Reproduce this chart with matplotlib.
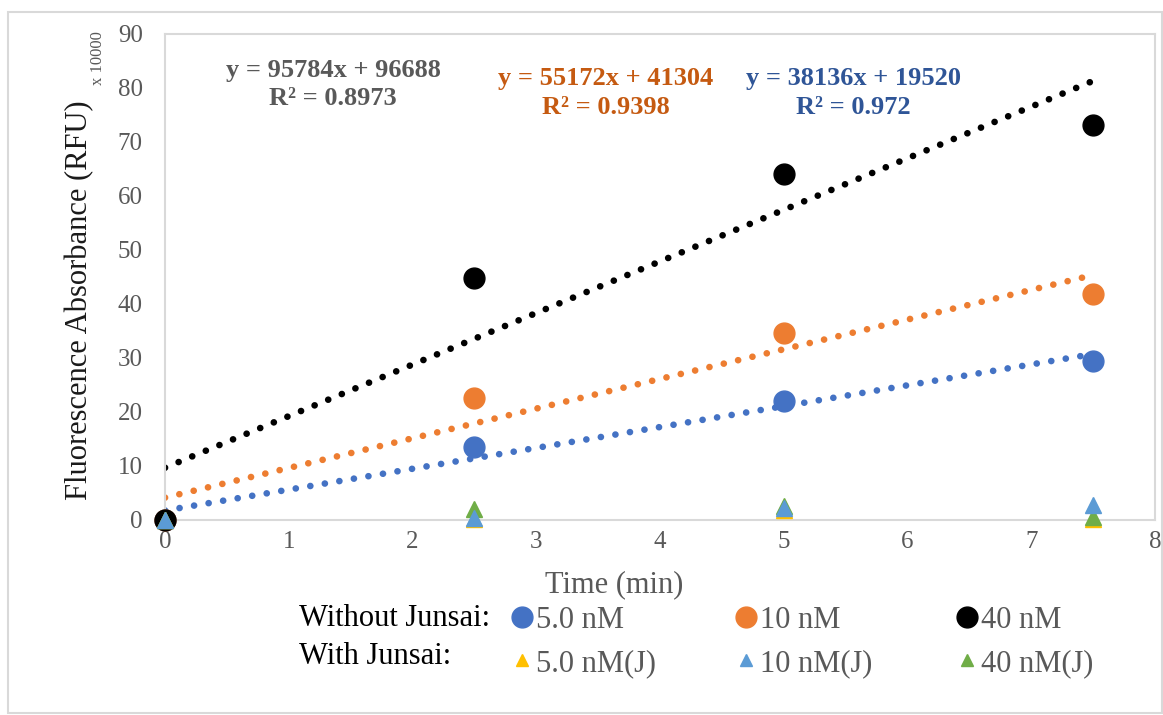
import numpy as np
import matplotlib
matplotlib.use("Agg")
import matplotlib.pyplot as plt
from matplotlib.lines import Line2D
from matplotlib.patches import Rectangle

plt.rcParams['font.family'] = ['Liberation Serif', 'DejaVu Serif']

# data (y in units of x 10000 RFU)
time_min = [0, 2.5, 5, 7.5]
nm5 = [0, 13.6, 22.0, 29.4]
nm10 = [0, 22.6, 34.6, 41.8]
nm40 = [0, 44.8, 64.0, 73.2]
nm5_j = [0, 0.2, 1.8, 0.2]
nm10_j = [0, 0.4, 2.2, 2.8]
nm40_j = [0, 2.0, 2.6, 0.6]

eq_texts = ["y = 95784x + 96688\nR\u00b2 = 0.8973",
            "y = 55172x + 41304\nR\u00b2 = 0.9398",
            "y = 38136x + 19520\nR\u00b2 = 0.972"]

BLUE = '#4472C4'
ORANGE = '#ED7D31'
BLACK = '#000000'
YELLOW = '#FFC000'
LBLUE = '#5B9BD5'
GREEN = '#70AD47'
GREY = '#595959'

W, H = 1163, 715
fig = plt.figure(figsize=(W / 100, H / 100), dpi=100)
ax = fig.add_axes([165 / W, 1 - 520 / H, (1155 - 165) / W, (520 - 34) / H])

# outer chart border
fig.patches.append(Rectangle((8 / W, 2 / H), 1 - 9 / W, 1 - 14 / H, transform=fig.transFigure,
                             fill=False, edgecolor='#D9D9D9', linewidth=1.5))

x = np.array(time_min)
xfit = np.array([0, 7.5])
for ys, col in [(nm40, BLACK), (nm10, ORANGE), (nm5, BLUE)]:
    k, b = np.polyfit(x, ys, 1)
    ax.plot(xfit, k * xfit + b, color=col, lw=4.8, linestyle=(0, (0.01, 2.2)),
            dash_capstyle='round', zorder=2)

for ys, col in [(nm5, BLUE), (nm10, ORANGE), (nm40, BLACK)]:
    ax.plot(x, ys, 'o', color=col, ms=15, mec=col, clip_on=False, zorder=3, lw=0)

for ys, col in [(nm5_j, YELLOW), (nm40_j, GREEN), (nm10_j, LBLUE)]:
    ax.plot(x, ys, '^', color=col, ms=12, mec=col, clip_on=False, zorder=4, lw=0)

ax.set_xlim(0, 8)
ax.set_ylim(0, 90)
ax.set_xticks(range(0, 9))
ax.set_yticks(range(0, 91, 10))
ax.tick_params(length=0, labelsize=18, labelcolor=GREY)
ax.tick_params(axis='y', pad=16)
ax.tick_params(axis='x', pad=8)
for s in ax.spines.values():
    s.set_color('#D9D9D9')
    s.set_linewidth(1.5)

# trendline equations
ax.text(1.36, 80.6, eq_texts[0], color=GREY, fontsize=19, fontweight='bold',
        ha='center', va='center', linespacing=1.3)
ax.text(3.56, 79.1, eq_texts[1], color='#C55A11', fontsize=19, fontweight='bold',
        ha='center', va='center', linespacing=1.3)
ax.text(5.56, 79.1, eq_texts[2], color='#2F5597', fontsize=19, fontweight='bold',
        ha='center', va='center', linespacing=1.3)

# axis titles
fig.text(614 / W, 1 - 585 / H, "Time (min)", fontsize=22, color=GREY, ha='center', va='center')
fig.text(80 / W, 1 - 300 / H, "Fluorescence Absorbance (RFU)", fontsize=22, color='#1a1a1a',
         rotation=90, ha='center', va='center')
fig.text(98 / W, 1 - 58 / H, "x 10000", fontsize=12, color=GREY, rotation=90, ha='center', va='center')

# legend
fig.text(299 / W, 1 - 618 / H, "Without Junsai:", fontsize=22, color='black', ha='left', va='center')
fig.text(299 / W, 1 - 657 / H, "With Junsai:", fontsize=22, color='black', ha='left', va='center')

cols = [("5.0 nM", BLUE, "5.0 nM(J)", YELLOW, 522),
        ("10 nM", ORANGE, "10 nM(J)", LBLUE, 746),
        ("40 nM", BLACK, "40 nM(J)", GREEN, 967)]
for lab1, c1, lab2, c2, xc in cols:
    h1 = Line2D([], [], marker='o', ls='', color=c1, ms=15)
    h2 = Line2D([], [], marker='^', ls='', color=c2, ms=8)
    leg = fig.legend([h1, h2], [lab1, lab2], loc='center left',
                     bbox_to_anchor=((xc - 7.3) / W, 1 - 642 / H), frameon=False,
                     fontsize=22, handlelength=0.5, handletextpad=0.2, borderpad=0,
                     borderaxespad=0, labelspacing=0.45, labelcolor=GREY)

fig.savefig("out.png", dpi=100)
